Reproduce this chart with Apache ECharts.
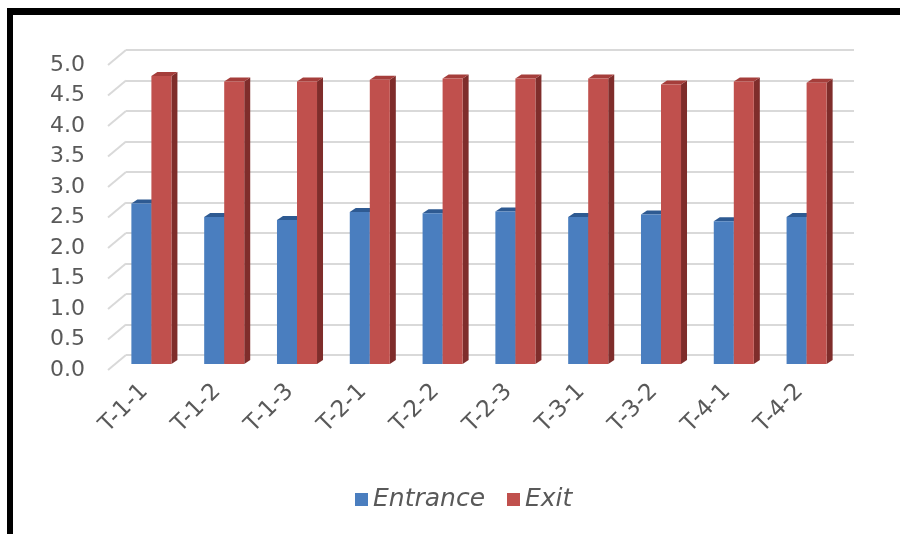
<!DOCTYPE html>
<html style="height: 100%">
    <head>
        <title>Entrance / Exit</title>
        <meta charset="utf-8">
    </head>
    <body style="height: 100%; margin: 0; background: #fff">
        <div id="container" style="height: 100%"></div>

        <script type="text/javascript" src="https://cdn.jsdelivr.net/npm/echarts@6.0.0/dist/echarts.min.js"></script>
        <script type="text/javascript">
            var categories = ['T-1-1', 'T-1-2', 'T-1-3', 'T-2-1', 'T-2-2', 'T-2-3', 'T-3-1', 'T-3-2', 'T-4-1', 'T-4-2'];
            var entrance = [2.63, 2.41, 2.36, 2.49, 2.47, 2.50, 2.41, 2.45, 2.34, 2.41];
            var exit = [4.72, 4.63, 4.63, 4.66, 4.68, 4.68, 4.68, 4.58, 4.63, 4.61];
            var ticks = [0, 0.5, 1, 1.5, 2, 2.5, 3, 3.5, 4, 4.5, 5];

            var dom = document.getElementById("container");
            var myChart = echarts.init(dom);

            // fake depth of the 3D excel look (pixels)
            var DEPTH_X = 18, DEPTH_Y = 15;   // front plane -> back wall
            var BAR_DX = 6, BAR_DY = 4;       // thickness of one column

            var font = 'DejaVu Sans';
            var textColor = '#595959';

            function barRender(side, front, top, shade) {
                return function (params, api) {
                    var i = api.value(0);
                    var p = api.coord([i, api.value(1)]);
                    var b = api.coord([i, 0]);
                    var bw = api.size([1, 0])[0] * 0.275;
                    var x0 = side < 0 ? p[0] - bw : p[0];
                    var x1 = x0 + bw;
                    return {
                        type: 'group',
                        children: [
                            {type: 'polygon', shape: {points: [[x1, p[1]], [x1 + BAR_DX, p[1] - BAR_DY], [x1 + BAR_DX, b[1] - BAR_DY], [x1, b[1]]]}, style: {fill: shade}},
                            {type: 'polygon', shape: {points: [[x0, p[1]], [x0 + BAR_DX, p[1] - BAR_DY], [x1 + BAR_DX, p[1] - BAR_DY], [x1, p[1]]]}, style: {fill: top}},
                            {type: 'rect', shape: {x: x0, y: p[1], width: bw, height: b[1] - p[1]}, style: {fill: front}}
                        ]
                    };
                };
            }

            function diagRender(params, api) {
                var y = api.coord([0, api.value(0)])[1];
                var x = params.coordSys.x;
                return {
                    type: 'line',
                    shape: {x1: x - DEPTH_X, y1: y + DEPTH_Y, x2: x, y2: y},
                    style: {stroke: '#d9d9d9', lineWidth: 2}
                };
            }

            function hiddenX(g) {
                return {type: 'category', gridIndex: g, data: categories, show: false};
            }
            function hiddenY(g, split) {
                return {
                    type: 'value', gridIndex: g, min: 0, max: 5, interval: 0.5,
                    axisLabel: {show: false}, axisLine: {show: false}, axisTick: {show: false},
                    splitLine: {show: split, lineStyle: {color: '#d9d9d9', width: 2}}
                };
            }

            var option = {
                animation: false,
                backgroundColor: '#fff',
                grid: [
                    {left: 108, top: 65, width: 728, height: 305},  // front plane (labels)
                    {left: 126, top: 50, width: 728, height: 305},  // back wall (gridlines)
                    {left: 115, top: 59, width: 728, height: 305}   // columns
                ],
                xAxis: [
                    {
                        type: 'category', gridIndex: 0, data: categories,
                        axisLine: {show: false}, axisTick: {show: false},
                        axisLabel: {rotate: 45, margin: 18, fontSize: 23, color: textColor, fontFamily: font, interval: 0}
                    },
                    hiddenX(1),
                    hiddenX(2)
                ],
                yAxis: [
                    {
                        type: 'value', gridIndex: 0, min: 0, max: 5, interval: 0.5,
                        axisLine: {show: false}, axisTick: {show: false}, splitLine: {show: false},
                        axisLabel: {
                            margin: 23, fontSize: 22, color: textColor, fontFamily: font,
                            formatter: function (v) { return v.toFixed(1); }
                        }
                    },
                    hiddenY(1, true),
                    hiddenY(2, false)
                ],
                legend: {
                    data: ['Entrance', 'Exit'],
                    left: 350, top: 482,
                    icon: 'rect', itemWidth: 13, itemHeight: 13, itemGap: 22,
                    textStyle: {fontSize: 25, fontStyle: 'italic', color: textColor, fontFamily: font}
                },
                graphic: [
                    {type: 'rect', shape: {x: 7, y: 8, width: 893, height: 7}, style: {fill: '#000'}},
                    {type: 'rect', shape: {x: 7, y: 8, width: 6, height: 526}, style: {fill: '#000'}}
                ],
                series: [
                    {
                        type: 'custom', name: 'ticks', xAxisIndex: 1, yAxisIndex: 1,
                        data: ticks, renderItem: diagRender, silent: true, z: 1,
                        encode: {y: 0}
                    },
                    {
                        type: 'custom', name: 'Entrance', xAxisIndex: 2, yAxisIndex: 2,
                        itemStyle: {color: '#4a7ebf'},
                        data: entrance.map(function (v, i) { return [i, v]; }),
                        renderItem: barRender(-1, '#4a7ebf', '#2e5a92', '#2e5a92'), z: 2
                    },
                    {
                        type: 'custom', name: 'Exit', xAxisIndex: 2, yAxisIndex: 2,
                        itemStyle: {color: '#c0504d'},
                        data: exit.map(function (v, i) { return [i, v]; }),
                        renderItem: barRender(1, '#c0504d', '#a53e3b', '#7f2d2b'), z: 3
                    }
                ]
            };

            myChart.setOption(option);
            window.onresize = function () {
                myChart.resize();
            };
        </script>
    </body>
</html>
